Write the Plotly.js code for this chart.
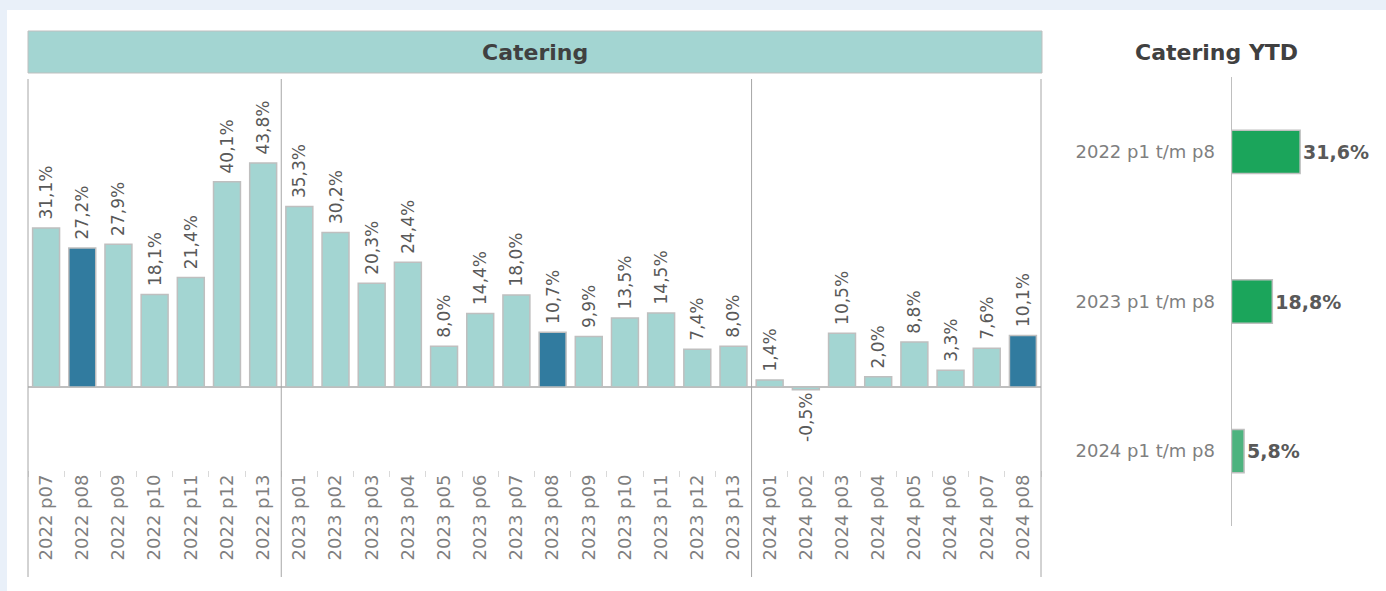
<!DOCTYPE html>
<html>
<head>
<meta charset="utf-8">
<script src="https://cdn.plot.ly/plotly-3.0.1.min.js"></script>
<style>
  html, body { margin: 0; padding: 0; background: #E9F0F9; }
  #chart { width: 1386px; height: 591px; }
</style>
</head>
<body>
<div id="chart"></div>
<script>
// ---- data ----
const categories = [
  '2022 p07','2022 p08','2022 p09','2022 p10','2022 p11','2022 p12','2022 p13',
  '2023 p01','2023 p02','2023 p03','2023 p04','2023 p05','2023 p06','2023 p07',
  '2023 p08','2023 p09','2023 p10','2023 p11','2023 p12','2023 p13',
  '2024 p01','2024 p02','2024 p03','2024 p04','2024 p05','2024 p06','2024 p07','2024 p08'
];
const values = [
  31.1, 27.2, 27.9, 18.1, 21.4, 40.1, 43.8,
  35.3, 30.2, 20.3, 24.4, 8.0, 14.4, 18.0,
  10.7, 9.9, 13.5, 14.5, 7.4, 8.0,
  1.4, -0.5, 10.5, 2.0, 8.8, 3.3, 7.6, 10.1
];
const highlighted = ['2022 p08', '2023 p08', '2024 p08'];

const ytdCategories = ['2022 p1 t/m p8', '2023 p1 t/m p8', '2024 p1 t/m p8'];
const ytdValues = [31.6, 18.8, 5.8];

// ---- styles ----
const W = 1386, H = 591;
const FONT = 'DejaVu Sans, Liberation Sans, sans-serif';
const colLight = '#A3D5D2', colDark = '#317B9F';
const ytdColors = ['#1BA55B', '#1BA55B', '#4DB37F'];
const px = v => v / W;
const py = v => 1 - v / H;

const barColors = categories.map(c => highlighted.includes(c) ? colDark : colLight);

// year boundaries (from the category labels)
const boundaries = [];
for (let i = 1; i < categories.length; i++) {
  if (categories[i].slice(0, 4) !== categories[i - 1].slice(0, 4)) boundaries.push(i - 0.5);
}

const lineColor = '#A6A6A6';
const shapes = [
  { type: 'rect', xref: 'paper', yref: 'paper', x0: px(7), x1: 1, y0: 0, y1: py(10),
    fillcolor: '#FFFFFF', line: { width: 0 }, layer: 'below' },
  { type: 'rect', xref: 'paper', yref: 'paper', x0: px(28), x1: px(1042), y0: py(73), y1: py(31),
    fillcolor: colLight, line: { color: '#BFBFBF', width: 1 } },
  { type: 'line', xref: 'paper', yref: 'paper', x0: px(28), x1: px(28), y0: py(577), y1: py(79),
    line: { color: lineColor, width: 1 } },
  { type: 'line', xref: 'paper', yref: 'paper', x0: px(1041), x1: px(1041), y0: py(577), y1: py(79),
    line: { color: lineColor, width: 1 } }
];
boundaries.forEach(b => shapes.push({
  type: 'line', xref: 'x', yref: 'paper', x0: b, x1: b, y0: py(577), y1: py(79),
  line: { color: lineColor, width: 1 }
}));

const traces = [
  {
    type: 'bar', x: categories, y: values, xaxis: 'x', yaxis: 'y',
    width: 0.745,
    marker: { color: barColors, line: { color: '#BFBFBF', width: 1.5 } },
    texttemplate: '\u00A0%{y:.1f}%', textposition: 'outside', textangle: -90,
    textfont: { family: FONT, size: 17, color: '#595959' },
    cliponaxis: false, constraintext: 'none', hoverinfo: 'skip'
  },
  {
    type: 'bar', orientation: 'h', y: ytdCategories, x: ytdValues, xaxis: 'x2', yaxis: 'y2',
    width: 0.29,
    marker: { color: ytdColors, line: { color: '#BFBFBF', width: 1.5 } },
    texttemplate: '<b>%{x:.1f}%</b>', textposition: 'outside',
    textfont: { family: FONT, size: 19, color: '#595959' },
    cliponaxis: false, constraintext: 'none', hoverinfo: 'skip'
  }
];

const layout = {
  width: W, height: H,
  margin: { l: 0, r: 0, t: 0, b: 0, pad: 0 },
  paper_bgcolor: '#E9F0F9', plot_bgcolor: 'rgba(0,0,0,0)',
  separators: ',.',
  showlegend: false, hovermode: false,
  font: { family: FONT, color: '#595959' },
  xaxis: {
    domain: [px(28), px(1041)], anchor: 'y', type: 'category',
    tickangle: -90, ticks: 'outside', tickson: 'boundaries', ticklen: 6,
    tickcolor: '#D9D9D9', tickwidth: 1,
    tickfont: { family: FONT, size: 18, color: '#7F7F7F' },
    showline: false, showgrid: false, zeroline: false, fixedrange: true
  },
  yaxis: {
    domain: [py(470), py(79)], anchor: 'x', range: [-16.2, 60.2],
    showticklabels: false, showgrid: false, ticks: '',
    zeroline: true, zerolinecolor: '#BFBFBF', zerolinewidth: 2, fixedrange: true
  },
  xaxis2: {
    domain: [px(1231.5), px(1380)], anchor: 'y2', range: [0, 68.4],
    visible: false, fixedrange: true
  },
  yaxis2: {
    domain: [py(526), py(77)], anchor: 'x2', type: 'category', autorange: 'reversed',
    showline: true, linecolor: '#BFBFBF', linewidth: 1, ticks: '',
    ticklabelstandoff: 12,
    tickfont: { family: FONT, size: 18, color: '#7F7F7F' },
    showgrid: false, zeroline: false, fixedrange: true
  },
  shapes: shapes,
  annotations: [
    { text: '<b>Catering</b>', xref: 'paper', yref: 'paper', x: px(535), y: py(52),
      showarrow: false, xanchor: 'center', yanchor: 'middle',
      font: { family: FONT, size: 22, color: '#404040' } },
    { text: '<b>Catering YTD</b>', xref: 'paper', yref: 'paper', x: px(1216), y: py(52),
      showarrow: false, xanchor: 'center', yanchor: 'middle',
      font: { family: FONT, size: 22, color: '#404040' } }
  ]
};

Plotly.newPlot('chart', traces, layout, { displayModeBar: false, staticPlot: true });
</script>
</body>
</html>
